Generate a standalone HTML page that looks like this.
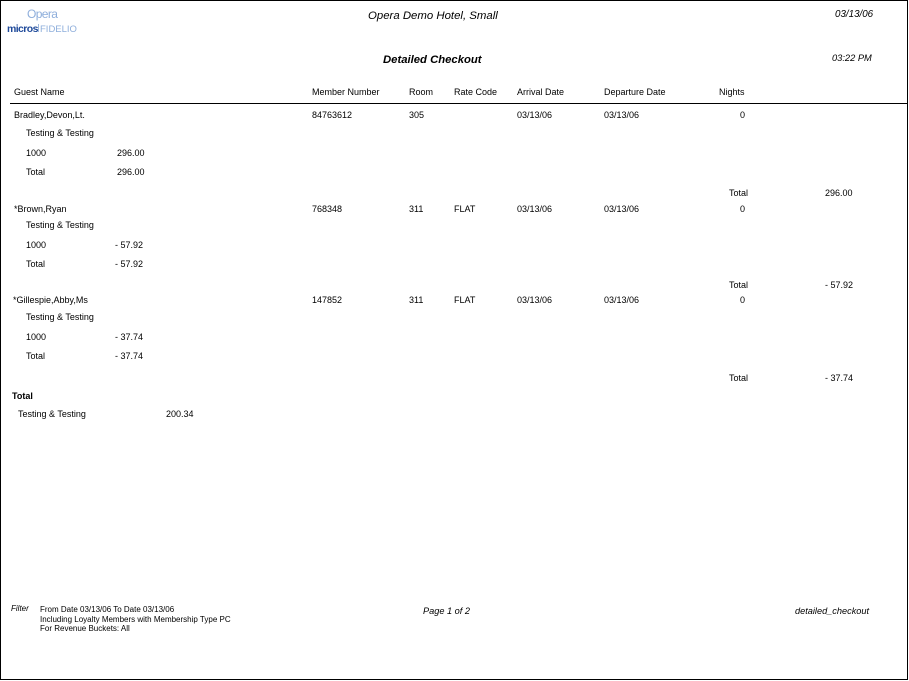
<!DOCTYPE html>
<html>
<head>
<meta charset="utf-8">
<style>
html,body{margin:0;padding:0;background:#fff;}
body{width:909px;height:681px;position:relative;overflow:hidden;font-family:"Liberation Sans",Arial,sans-serif;color:#000;}
.frame{position:absolute;left:0;top:0;width:908px;height:680px;box-sizing:border-box;border:1px solid #000;}
.t{position:absolute;font-size:9px;line-height:9px;white-space:nowrap;}
.i{font-style:italic;}
.s{position:absolute;font-size:8px;line-height:8px;white-space:nowrap;}
.hline{position:absolute;left:10px;top:103px;width:898px;height:1px;background:#000;}
.logo{position:absolute;left:5px;top:4px;width:80px;height:28px;overflow:hidden;}
</style>
</head>
<body>
<div class="frame"></div>

<div class="logo">
  <div style="position:absolute;left:22px;top:4px;font-size:12px;line-height:13px;color:#8eaedb;letter-spacing:-0.6px;">Opera</div>
  <div style="position:absolute;left:2px;top:19px;font-size:10.5px;line-height:12px;font-weight:bold;color:#1f4a9a;letter-spacing:-0.6px;">micros</div>
  <div style="position:absolute;left:33px;top:20px;width:1px;height:10px;background:#9fb8dd;"></div>
  <div style="position:absolute;left:35px;top:20px;font-size:9.5px;line-height:12px;color:#8eaedb;">FIDELIO</div>
</div>

<div class="t i" style="left:368px;top:10.6px;font-size:11.4px;line-height:11px;">Opera Demo Hotel, Small</div>
<div class="t i" style="left:835px;top:10px;font-size:9.8px;line-height:10px;">03/13/06</div>
<div class="t i" style="left:383px;top:54.6px;font-size:11.3px;line-height:11px;font-weight:bold;">Detailed Checkout</div>
<div class="t i" style="left:832px;top:53.5px;font-size:9.3px;line-height:9px;">03:22 PM</div>

<!-- column headers -->
<div class="t" style="left:14px;top:88.2px;">Guest Name</div>
<div class="t" style="left:312px;top:88.2px;">Member Number</div>
<div class="t" style="left:409px;top:88.2px;">Room</div>
<div class="t" style="left:454px;top:88.2px;">Rate Code</div>
<div class="t" style="left:517px;top:88.2px;">Arrival Date</div>
<div class="t" style="left:604px;top:88.2px;">Departure Date</div>
<div class="t" style="left:719px;top:88.2px;">Nights</div>
<div class="hline"></div>

<!-- record 1 -->
<div class="t" style="left:14px;top:111.3px;">Bradley,Devon,Lt.</div>
<div class="t" style="left:312px;top:111.3px;">84763612</div>
<div class="t" style="left:409px;top:111.3px;">305</div>
<div class="t" style="left:517px;top:111.3px;">03/13/06</div>
<div class="t" style="left:604px;top:111.3px;">03/13/06</div>
<div class="t" style="left:740px;top:111.3px;">0</div>
<div class="t" style="left:26px;top:128.6px;">Testing &amp; Testing</div>
<div class="t" style="left:26px;top:148.6px;">1000</div>
<div class="t" style="left:117px;top:148.6px;">296.00</div>
<div class="t" style="left:26px;top:167.6px;">Total</div>
<div class="t" style="left:117px;top:167.6px;">296.00</div>
<div class="t" style="left:729px;top:189.3px;">Total</div>
<div class="t" style="left:825px;top:189.3px;">296.00</div>

<!-- record 2 -->
<div class="t" style="left:14px;top:204.8px;">*Brown,Ryan</div>
<div class="t" style="left:312px;top:204.8px;">768348</div>
<div class="t" style="left:409px;top:204.8px;">311</div>
<div class="t" style="left:454px;top:204.8px;">FLAT</div>
<div class="t" style="left:517px;top:204.8px;">03/13/06</div>
<div class="t" style="left:604px;top:204.8px;">03/13/06</div>
<div class="t" style="left:740px;top:204.8px;">0</div>
<div class="t" style="left:26px;top:220.6px;">Testing &amp; Testing</div>
<div class="t" style="left:26px;top:240.6px;">1000</div>
<div class="t" style="left:115px;top:240.6px;">- 57.92</div>
<div class="t" style="left:26px;top:260px;">Total</div>
<div class="t" style="left:115px;top:260px;">- 57.92</div>
<div class="t" style="left:729px;top:281.3px;">Total</div>
<div class="t" style="left:825px;top:281.3px;">- 57.92</div>

<!-- record 3 -->
<div class="t" style="left:13px;top:296.2px;">*Gillespie,Abby,Ms</div>
<div class="t" style="left:312px;top:296.2px;">147852</div>
<div class="t" style="left:409px;top:296.2px;">311</div>
<div class="t" style="left:454px;top:296.2px;">FLAT</div>
<div class="t" style="left:517px;top:296.2px;">03/13/06</div>
<div class="t" style="left:604px;top:296.2px;">03/13/06</div>
<div class="t" style="left:740px;top:296.2px;">0</div>
<div class="t" style="left:26px;top:312.6px;">Testing &amp; Testing</div>
<div class="t" style="left:26px;top:333.4px;">1000</div>
<div class="t" style="left:115px;top:333.4px;">- 37.74</div>
<div class="t" style="left:26px;top:352.4px;">Total</div>
<div class="t" style="left:115px;top:352.4px;">- 37.74</div>
<div class="t" style="left:729px;top:373.8px;">Total</div>
<div class="t" style="left:825px;top:373.8px;">- 37.74</div>

<!-- grand total -->
<div class="t" style="left:12px;top:392.4px;font-weight:bold;">Total</div>
<div class="t" style="left:18px;top:410px;">Testing &amp; Testing</div>
<div class="t" style="left:166px;top:410px;">200.34</div>

<!-- footer -->
<div class="s i" style="left:11px;top:605px;">Filter</div>
<div class="s" style="left:40px;top:606px;">From Date 03/13/06 To Date 03/13/06</div>
<div class="s" style="left:40px;top:615.5px;">Including Loyalty Members with Membership Type PC</div>
<div class="s" style="left:40px;top:625px;">For Revenue Buckets: All</div>
<div class="t i" style="left:423px;top:606.6px;font-size:9.2px;">Page 1 of 2</div>
<div class="t i" style="left:795px;top:606.6px;font-size:9.2px;">detailed_checkout</div>
</body>
</html>
